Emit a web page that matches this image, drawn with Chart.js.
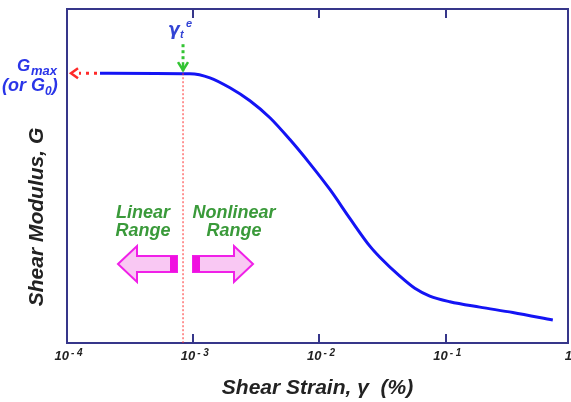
<!DOCTYPE html>
<html>
<head>
<meta charset="utf-8">
<script src="https://cdn.jsdelivr.net/npm/chart.js@4.4.1/dist/chart.umd.min.js"></script>
<style>
  html, body { margin: 0; padding: 0; background: #ffffff; }
  #wrap { width: 571px; height: 402px; position: relative; }
</style>
</head>
<body>
<div id="wrap"><canvas id="c" width="571" height="402"></canvas></div>
<script>
// ---- data (x: shear strain in %, y: G / Gmax) ----
const strain  = [1.825e-4, 9.42e-4, 1.356e-3, 1.953e-3, 2.811e-3, 4.05e-3, 5.83e-3, 8.39e-3, 1.209e-2, 1.740e-2, 2.506e-2, 3.008e-2, 4.33e-2, 5.69e-2, 7.48e-2, 0.1078, 0.1862, 0.340, 0.705];
const modulus = [1.000, 0.998, 0.983, 0.946, 0.898, 0.835, 0.754, 0.665, 0.569, 0.462, 0.359, 0.318, 0.248, 0.203, 0.174, 0.153, 0.133, 0.113, 0.085];
const tickValues = [1e-4, 1e-3, 1e-2, 1e-1, 1];
const tickBase   = ['10', '10', '10', '10', '1'];
const tickExp    = ['-4', '-3', '-2', '-1', ''];
const xMin = 1e-4, xMax = 0.93;
const gammaTe = 8.3e-4;   // elastic threshold strain
const gMax = 1.0;         // normalised maximum shear modulus

const FRAME = '#36368a';
const FONT = '"Liberation Sans", Arial, sans-serif';

const annot = {
  id: 'annot',
  afterDatasetsDraw(chart) {
    const { ctx, chartArea: a, scales: { x, y } } = chart;
    const gx = x.getPixelForValue(gammaTe);
    const gy = y.getPixelForValue(gMax);
    ctx.save();

    // frame
    ctx.strokeStyle = FRAME; ctx.lineWidth = 2; ctx.setLineDash([]);
    ctx.strokeRect(a.left, a.top, a.right - a.left, a.bottom - a.top);
    // inside ticks (bottom and top) + tick labels with superscript exponents
    tickValues.forEach((v, i) => {
      const px = x.getPixelForValue(v);
      if (v > xMin && v < xMax) {
        const rx = Math.round(px);
        ctx.strokeStyle = FRAME; ctx.lineWidth = 2;
        ctx.beginPath();
        ctx.moveTo(rx, a.bottom); ctx.lineTo(rx, a.bottom - 9);
        ctx.moveTo(rx, a.top); ctx.lineTo(rx, a.top + 9);
        ctx.stroke();
      }
      ctx.fillStyle = '#222222';
      ctx.textAlign = 'left'; ctx.textBaseline = 'alphabetic';
      ctx.font = 'italic bold 13px ' + FONT;
      const bw = ctx.measureText(tickBase[i]).width;
      let bx = tickExp[i] ? px - bw + 2 : px - bw / 2;
      if (bx + bw > chart.width) bx = chart.width - bw + 1;
      ctx.fillText(tickBase[i], bx, a.bottom + 17);
      if (tickExp[i]) {
        ctx.font = 'italic bold 10px ' + FONT;
        ctx.fillText(tickExp[i].split('').join(' '), bx + bw + 2, a.bottom + 13);
      }
    });

    // red dotted vertical line at threshold strain
    ctx.strokeStyle = '#ff2a2a'; ctx.lineWidth = 1; ctx.setLineDash([2, 2]);
    ctx.beginPath(); ctx.moveTo(gx, gy); ctx.lineTo(gx, a.bottom); ctx.stroke();

    // green dotted arrow down to curve
    ctx.strokeStyle = '#33c433'; ctx.fillStyle = '#33c433';
    ctx.lineWidth = 3; ctx.setLineDash([3, 3]);
    ctx.beginPath(); ctx.moveTo(gx, gy - 29); ctx.lineTo(gx, gy - 14); ctx.stroke();
    ctx.setLineDash([]);
    ctx.lineWidth = 2.5;
    ctx.beginPath(); ctx.moveTo(gx - 5, gy - 11); ctx.lineTo(gx, gy - 3); ctx.lineTo(gx + 5, gy - 11); ctx.stroke();
    ctx.beginPath(); ctx.moveTo(gx, gy - 11); ctx.lineTo(gx, gy - 2); ctx.stroke();

    // red dotted arrow to the left axis
    ctx.strokeStyle = '#ff2a2a';
    ctx.lineWidth = 3; ctx.setLineDash([3, 5]);
    ctx.beginPath(); ctx.moveTo(a.left + 30, gy); ctx.lineTo(a.left + 12, gy); ctx.stroke();
    ctx.setLineDash([]); ctx.lineWidth = 2.5;
    ctx.beginPath(); ctx.moveTo(a.left + 11, gy - 5); ctx.lineTo(a.left + 4, gy); ctx.lineTo(a.left + 11, gy + 5); ctx.stroke();

    // gamma_t^e label
    ctx.fillStyle = '#3344d4';
    ctx.textBaseline = 'alphabetic'; ctx.textAlign = 'left';
    ctx.font = 'italic bold 17px "DejaVu Sans", sans-serif';
    ctx.fillText('\u03B3', gx - 15, gy - 38);
    ctx.font = 'italic bold 11px ' + FONT;
    ctx.fillText('t', gx - 3, gy - 35);
    ctx.fillText('e', gx + 3, gy - 46);

    // Gmax (or G0) labels
    ctx.fillStyle = '#2a35e8';
    ctx.font = 'italic bold 17px ' + FONT;
    ctx.fillText('G', 17, 71);
    ctx.font = 'italic bold 13px ' + FONT;
    ctx.fillText('max', 31, 75);
    ctx.font = 'italic bold 18px ' + FONT;
    const t1 = '(or G';
    ctx.fillText(t1, 2, 91);
    let w1 = ctx.measureText(t1).width;
    ctx.font = 'italic bold 12px ' + FONT;
    ctx.fillText('0', 2 + w1, 95);
    let w2 = ctx.measureText('0').width;
    ctx.font = 'italic bold 18px ' + FONT;
    ctx.fillText(')', 2 + w1 + w2, 91);

    // Linear / Nonlinear range texts
    ctx.fillStyle = '#3a9a3a';
    ctx.font = 'italic bold 18px ' + FONT;
    ctx.textAlign = 'center';
    ctx.fillText('Linear', 143, 218);
    ctx.fillText('Range', 143, 236);
    ctx.fillText('Nonlinear', 234, 218);
    ctx.fillText('Range', 234, 236);

    // pink block arrows
    const drawArrow = (pts, blockX0, blockX1) => {
      ctx.beginPath();
      pts.forEach((p, i) => i ? ctx.lineTo(p[0], p[1]) : ctx.moveTo(p[0], p[1]));
      ctx.closePath();
      ctx.fillStyle = '#f9c8f3'; ctx.fill();
      ctx.strokeStyle = '#f020e8'; ctx.lineWidth = 2; ctx.stroke();
      ctx.fillStyle = '#f010e0';
      ctx.fillRect(blockX0, 256, blockX1 - blockX0, 16);
    };
    drawArrow([[118, 264], [137, 246], [137, 256], [177, 256], [177, 272], [137, 272], [137, 282]], 170, 177);
    drawArrow([[253, 264], [234, 246], [234, 256], [193, 256], [193, 272], [234, 272], [234, 282]], 193, 200);

    // y-axis title
    ctx.save();
    ctx.translate(37, 217);
    ctx.rotate(-Math.PI / 2);
    ctx.fillStyle = '#222222';
    ctx.font = 'italic bold 21px ' + FONT;
    ctx.textAlign = 'center'; ctx.textBaseline = 'middle';
    ctx.fillText('Shear Modulus, G', 0, 0);
    ctx.restore();

    ctx.restore();
  }
};

new Chart(document.getElementById('c'), {
  type: 'line',
  data: {
    datasets: [{
      data: strain.map((s, i) => ({ x: s, y: modulus[i] })),
      borderColor: '#1414f4',
      borderWidth: 3,
      pointRadius: 0,
      fill: false,
      cubicInterpolationMode: 'monotone'
    }]
  },
  options: {
    responsive: false,
    animation: false,
    devicePixelRatio: 1,
    layout: { padding: { left: 67, right: 3, top: 9, bottom: 0 } },
    plugins: { legend: { display: false }, tooltip: { enabled: false } },
    scales: {
      x: {
        type: 'logarithmic',
        min: xMin, max: xMax,
        afterFit: s => { s.height = 59; },
        grid: { display: false, drawTicks: false },
        border: { display: false },
        ticks: { display: false },
        title: {
          display: true,
          text: 'Shear Strain, \u03B3  (%)',
          color: '#222222',
          font: { family: FONT, size: 21, style: 'italic', weight: 'bold' },
          padding: { top: 0, bottom: 1 }
        }
      },
      y: {
        display: false,
        min: 0, max: 1.238
      }
    }
  },
  plugins: [annot]
});
</script>
</body>
</html>
